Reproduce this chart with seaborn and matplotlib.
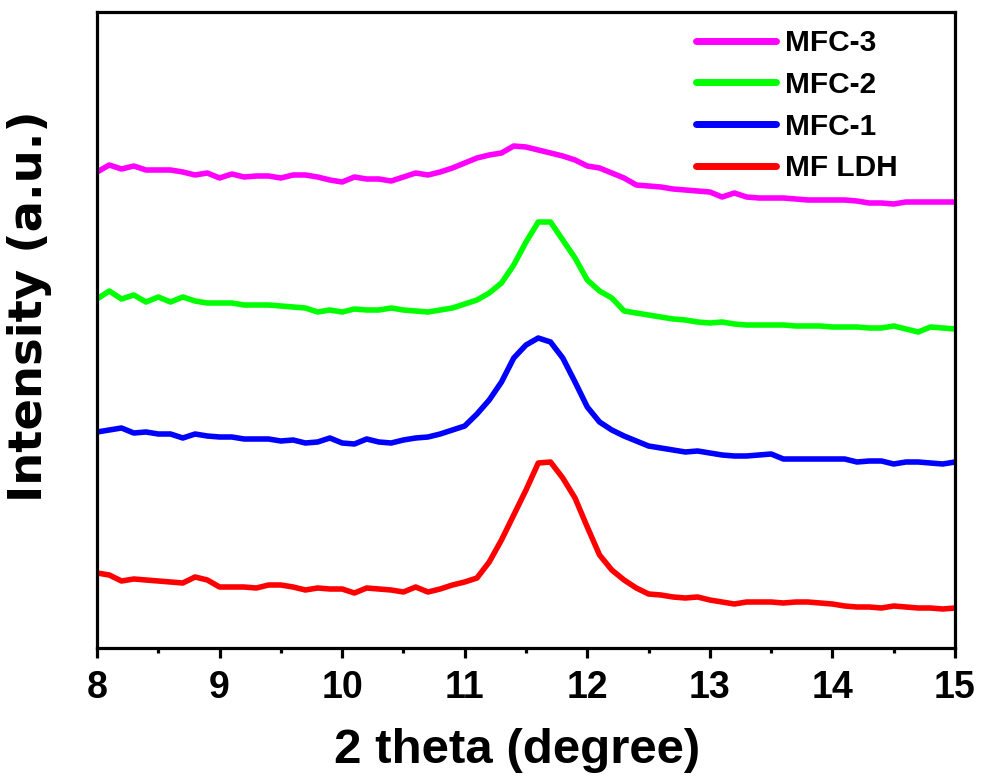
import numpy as np
import pandas as pd
import matplotlib
matplotlib.use("Agg")
import matplotlib.pyplot as plt
import seaborn as sns
from matplotlib.ticker import MultipleLocator

two_theta = np.round(np.arange(8.0, 15.0001, 0.1), 1)

# values (arbitrary intensity units, offset stacked)
mfc3_px = [172,165,169,166,170,170,170,172,175,173,178,174,177,176,176,178,175,175,177,180,
           182,177,179,179,181,177,173,175,172,168,163,158,155,153,146,147,150,153,156,160,
           166,168,173,178,185,186,187,189,190,191,192,197,193,197,198,198,198,199,200,200,
           200,200,201,203,203,204,202,202,202,202,202]
mfc2_px = [299,291,299,295,302,297,302,297,301,303,303,303,305,305,305,306,307,308,312,310,
           312,309,310,310,308,310,311,312,310,308,304,300,293,283,265,242,222,222,240,258,
           280,291,298,311,313,315,317,319,320,322,323,322,324,325,325,325,325,326,326,326,
           327,327,327,328,328,326,329,332,327,328,329]
mfc1_px = [432,430,428,433,432,434,434,438,434,436,437,437,439,439,439,441,440,443,442,438,
           443,444,439,442,443,440,438,437,434,430,426,414,400,382,358,345,338,342,358,382,
           407,422,430,436,441,446,448,450,452,451,453,455,456,456,455,454,459,459,459,459,
           459,459,462,461,461,464,462,462,463,464,462]
mfldh_px = [573,575,581,579,580,581,582,583,577,580,587,587,587,588,585,585,587,590,588,589,
            589,593,588,589,590,592,587,592,589,585,582,578,562,540,515,490,463,462,478,498,
            527,555,570,580,588,594,595,597,598,597,600,602,604,602,602,602,603,602,602,603,
            604,606,607,607,608,606,607,608,608,609,608]

series_names = ["MFC-3", "MFC-2", "MFC-1", "MF LDH"]
series_colors = ["#FF00FF", "#00FF00", "#0000FF", "#FF0000"]
ref = 648.0
series_vals = {
    "MFC-3": ref - np.array(mfc3_px, float),
    "MFC-2": ref - np.array(mfc2_px, float),
    "MFC-1": ref - np.array(mfc1_px, float),
    "MF LDH": ref - np.array(mfldh_px, float),
}

frames = []
for name in series_names:
    frames.append(pd.DataFrame({"two_theta": two_theta, "intensity": series_vals[name], "sample": name}))
df = pd.concat(frames, ignore_index=True)

sns.set_theme(style="white")
plt.rcParams['font.family'] = ['Liberation Sans', 'DejaVu Sans']
plt.rcParams['font.weight'] = 'bold'
plt.rcParams['text.color'] = 'black'
plt.rcParams['axes.labelcolor'] = 'black'
plt.rcParams['xtick.color'] = 'black'
plt.rcParams['ytick.color'] = 'black'

fig = plt.figure(figsize=(9.82, 7.8), dpi=100)
ax = fig.add_axes([97/982, 132/780, (955-97)/982, (648-12)/780])

sns.lineplot(data=df, x="two_theta", y="intensity", hue="sample", hue_order=series_names,
             palette=dict(zip(series_names, series_colors)), linewidth=4.0, ax=ax, sort=False)

ax.set_xlim(8, 15)
ax.set_ylim(0, 636)
ax.xaxis.set_major_locator(MultipleLocator(1))
ax.xaxis.set_minor_locator(MultipleLocator(0.5))
ax.set_yticks([])
ax.tick_params(axis='x', which='major', direction='out', length=7, width=2.3,
               labelsize=27, pad=9, bottom=True, colors='black')
ax.tick_params(axis='x', which='minor', direction='out', length=3.5, width=2.3, bottom=True)
for lab in ax.get_xticklabels():
    lab.set_fontweight('bold')
for sp in ax.spines.values():
    sp.set_linewidth(2.3)
    sp.set_color('black')

ax.set_xlabel("2 theta (degree)", fontsize=35.5, fontweight='bold')
ax.xaxis.set_label_coords(0.4895, -0.126)
ax.set_ylabel("Intensity (a.u.)", fontsize=33.5, fontweight='bold',
              family=['DejaVu Sans'])
ax.yaxis.set_label_coords(-0.053, 0.537)

leg = ax.legend(loc='upper right', bbox_to_anchor=(0.947, 0.992), borderaxespad=0,
                frameon=False, handlelength=2.67, handletextpad=0.3, labelspacing=0.46,
                prop={'weight': 'bold', 'size': 21.5, 'family': 'Liberation Sans'})
for line in leg.get_lines():
    line.set_linewidth(5)

fig.savefig("out.png", dpi=100)
